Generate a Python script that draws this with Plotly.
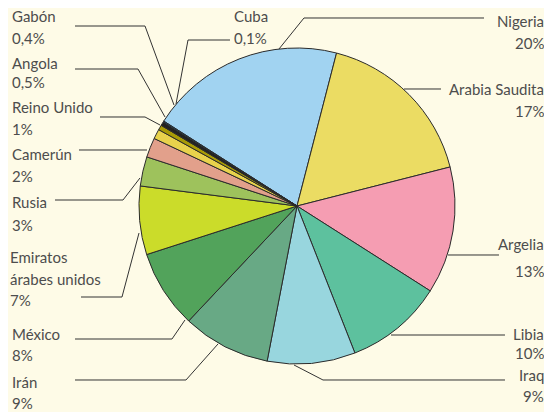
import plotly.graph_objects as go

# ---- data ----
countries = ["Nigeria", "Arabia Saudita", "Argelia", "Libia", "Iraq", "Irán", "México",
             "Emiratos árabes unidos", "Rusia", "Camerún", "Reino Unido", "Angola", "Gabón", "Cuba"]
shares = [20, 17, 13, 10, 9, 9, 8, 7, 3, 2, 1, 0.5, 0.4, 0.1]
pct_labels = ["20%", "17%", "13%", "10%", "9%", "9%", "8%", "7%", "3%", "2%", "1%", "0,5%", "0,4%", "0,1%"]
name_lines = [["Nigeria"], ["Arabia Saudita"], ["Argelia"], ["Libia"], ["Iraq"], ["Irán"], ["México"],
              ["Emiratos", "árabes unidos"], ["Rusia"], ["Camerún"], ["Reino Unido"], ["Angola"], ["Gabón"], ["Cuba"]]
colors = ["#a1d3f1", "#ebdc63", "#f59db2", "#5dc19e", "#98d6de", "#68a985", "#52a35b",
          "#cbdc2a", "#9ec25c", "#e2a08b", "#e8d24c", "#a89b06", "#222222", "#1d6fa5"]

W, H = 552, 412
OFF = 8  # page body margin offset
CX, CY, R = 297, 206, 158
RX = 546  # right edge used for right-hand labels (kept inside visible area)

# ---- layout for labels (screen pixel positions) ----
label_pos = {
    "Nigeria": (RX, "right", [21, 42.5]),
    "Arabia Saudita": (RX, "right", [89, 111]),
    "Argelia": (RX, "right", [243.5, 270.5]),
    "Libia": (RX, "right", [333.5, 352.5]),
    "Iraq": (RX, "right", [375, 396]),
    "Irán": (12, "left", [382, 402.5]),
    "México": (12, "left", [333.5, 355]),
    "Emiratos árabes unidos": (10, "left", [257, 278.5, 300]),
    "Rusia": (12, "left", [201.5, 225]),
    "Camerún": (12, "left", [153.5, 176]),
    "Reino Unido": (12, "left", [107.5, 129.5]),
    "Angola": (12, "left", [62.5, 82.5]),
    "Gabón": (12, "left", [16, 37.5]),
    "Cuba": (234, "left", [16, 37.5]),
}
leaders = {
    "Gabón": [(75, 26), (145, 26), (174, 105)],
    "Cuba": [(230, 40), (188, 40), (176, 104)],
    "Angola": [(75, 69), (138, 69), (165, 117)],
    "Reino Unido": [(100, 117), (145, 117), (160, 125)],
    "Camerún": [(79, 150), (147, 150)],
    "Rusia": [(55, 200), (123, 200), (140, 178)],
    "Emiratos árabes unidos": [(81, 297), (122, 297), (139, 233)],
    "México": [(75, 339), (172, 339), (185, 320)],
    "Irán": [(75, 380), (186, 380), (218, 344)],
    "Nigeria": [(484, 18), (304, 18), (279, 49)],
    "Arabia Saudita": [(441, 89), (404, 89)],
    "Argelia": [(499, 255), (448, 255)],
    "Libia": [(505, 335), (391, 335)],
    "Iraq": [(505, 380), (323, 380), (294, 365)],
}

def px(x):
    return (x - OFF) / W

def py(y):
    return 1 - (y - OFF) / H

fig = go.Figure(go.Pie(
    labels=countries,
    values=shares,
    sort=False,
    direction="clockwise",
    rotation=-57.5,
    marker=dict(colors=colors, line=dict(color="#2b2b2b", width=1)),
    textinfo="none",
    hoverinfo="label+percent",
    showlegend=False,
    domain=dict(x=[px(CX - R), px(CX + R)], y=[py(CY + R), py(CY - R)]),
))

annotations = []
for c, pct, lines in zip(countries, pct_labels, name_lines):
    x, anc, ys = label_pos[c]
    texts = lines + [pct]
    for t, yy in zip(texts, ys):
        annotations.append(dict(
            x=px(x), y=py(yy), xref="paper", yref="paper",
            text=t, showarrow=False, xanchor=anc, yanchor="middle",
            xshift=(0 if anc == "right" else -2),
            font=dict(family="Lato", size=15, color="#4d4d4d"),
        ))

shapes = []
for c, pts in leaders.items():
    path = "M " + " L ".join(f"{px(a):.5f},{py(b):.5f}" for a, b in pts)
    shapes.append(dict(type="path", path=path, xref="paper", yref="paper",
                       line=dict(color="#333333", width=1)))

fig.update_layout(
    width=W, height=H,
    margin=dict(l=0, r=0, t=0, b=0),
    paper_bgcolor="#fefbe7",
    plot_bgcolor="#fefbe7",
    annotations=annotations,
    shapes=shapes,
)

fig.write_html("out.html")
